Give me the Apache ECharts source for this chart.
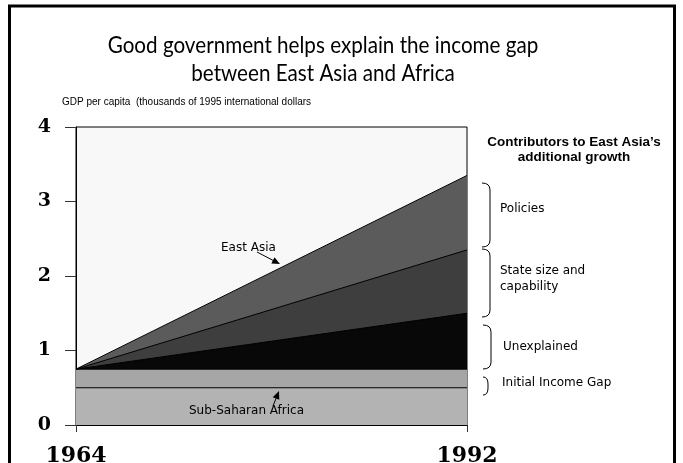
<!DOCTYPE html>
<html>
<head>
<meta charset="utf-8">
<script src="https://cdn.jsdelivr.net/npm/echarts@6/dist/echarts.min.js"></script>
<style>
html,body{margin:0;padding:0;background:#fff;}
#chart{width:683px;height:463px;}
</style>
</head>
<body>
<div id="chart"></div>
<script>
// ---- data ----
const years = ['1964', '1992'];
const yTicks = [0, 1, 2, 3, 4];
// cumulative top levels of each band (thousands of 1995 international dollars)
const africaTop = [0.5, 0.5];
const initialGapTop = [0.75, 0.75];
const unexplainedTop = [0.75, 1.5];
const stateSizeTop = [0.75, 2.35];
const policiesTop = [0.75, 3.35];

const chart = echarts.init(document.getElementById('chart'), null, {renderer: 'canvas'});

function band(name, data, color) {
  return {
    name: name, type: 'line', data: data, symbol: 'none', silent: true,
    lineStyle: {color: '#000', width: 1},
    areaStyle: {color: color, opacity: 1, origin: 'start'}
  };
}

function arrow(x1, y1, x2, y2) {
  const ang = Math.atan2(y2 - y1, x2 - x1);
  const L = 8, W = 3.5;
  const bx = x2 - L * Math.cos(ang), by = y2 - L * Math.sin(ang);
  const px = -Math.sin(ang) * W, py = Math.cos(ang) * W;
  return [
    {type: 'line', shape: {x1: x1, y1: y1, x2: bx, y2: by}, style: {stroke: '#000', lineWidth: 1}, z: 20},
    {type: 'polygon', shape: {points: [[x2, y2], [bx + px, by + py], [bx - px, by - py]]}, style: {fill: '#000'}, z: 20}
  ];
}

function bracket(x, y1, y2, w) {
  const r = Math.min(7, (y2 - y1) / 2);
  const st = {stroke: '#000', lineWidth: 1, fill: null};
  return [
    {type: 'bezierCurve', shape: {x1: x, y1: y1, cpx1: x + w, cpy1: y1, x2: x + w, y2: y1 + r}, style: st},
    {type: 'line', shape: {x1: x + w, y1: y1 + r, x2: x + w, y2: y2 - r}, style: st},
    {type: 'bezierCurve', shape: {x1: x + w, y1: y2 - r, cpx1: x + w, cpy1: y2, x2: x, y2: y2}, style: st}
  ];
}

function txt(text, x, y, extra) {
  return {type: 'text', z: 20, style: Object.assign({text: text, x: x, y: y, verticalAlign: 'middle', font: '12px "DejaVu Sans"', fill: '#000'}, extra || {})};
}

const graphics = [
  // slide frame
  {type: 'polyline', shape: {points: [[9.5, 470], [9.5, 6], [674.5, 6], [674.5, 470]]}, style: {stroke: '#000', lineWidth: 3, fill: null}, z: 10},
  // title
  {type: 'group', x: 323, y: 0, scaleX: 0.86, children: [
    {type: 'text', style: {text: 'Good government helps explain the income gap', x: 0, y: 33, align: 'center', verticalAlign: 'alphabetic', font: '24px Lato', fill: '#000'}},
    {type: 'text', style: {text: 'between East Asia and Africa', x: 0, y: 61, align: 'center', verticalAlign: 'alphabetic', font: '24px Lato', fill: '#000'}}
  ]},
  // y-axis caption
  txt('GDP per capita  (thousands of 1995 international dollars', 62, 102, {font: '10px "Liberation Sans"'}),
  // right panel heading
  txt('Contributors to East Asia\u2019s', 574, 142, {align: 'center', font: 'bold 13.5px "Liberation Sans"'}),
  txt('additional growth', 574, 157, {align: 'center', font: 'bold 13.5px "Liberation Sans"'}),
  // bracket labels
  txt('Policies', 500, 209),
  txt('State size and', 500, 271),
  txt('capability', 500, 287),
  txt('Unexplained', 503, 347),
  txt('Initial Income Gap', 502, 383),
  // annotations
  txt('East Asia', 221, 248),
  txt('Sub-Saharan Africa', 189, 411)
].concat(
  bracket(482, 183, 247, 8),
  bracket(482, 249, 317, 8),
  bracket(483, 325, 369, 8),
  bracket(483, 377, 395, 5),
  arrow(257, 252, 280, 264),
  arrow(273, 406, 279, 391)
);

chart.setOption({
  animation: false,
  backgroundColor: '#fff',
  grid: {left: 76, right: 216, top: 127, bottom: 38, outerBoundsMode: 'none', containLabel: false, show: true, backgroundColor: '#f8f8f8', borderColor: '#000', borderWidth: 1, z: 0},
  xAxis: {
    type: 'category', data: years, boundaryGap: false,
    axisLine: {show: true, lineStyle: {color: '#000', width: 1}},
    axisTick: {show: true, length: 7, lineStyle: {color: '#333'}},
    axisLabel: {color: '#000', fontFamily: 'DejaVu Serif', fontWeight: 'bold', fontSize: 22, margin: 20},
    splitLine: {show: false}
  },
  yAxis: {
    type: 'value', min: yTicks[0], max: yTicks[yTicks.length - 1], interval: 1,
    axisLine: {show: true, lineStyle: {color: '#000', width: 1}},
    axisTick: {show: true, length: 11, lineStyle: {color: '#333'}},
    axisLabel: {color: '#000', fontFamily: 'DejaVu Serif', fontWeight: 'bold', fontSize: 19, margin: 25},
    splitLine: {show: false}
  },
  series: [
    band('Policies', policiesTop, '#5b5b5b'),
    band('State size and capability', stateSizeTop, '#3e3e3e'),
    band('Unexplained', unexplainedTop, '#080808'),
    band('Initial Income Gap', initialGapTop, '#a6a6a6'),
    band('Sub-Saharan Africa', africaTop, '#b3b3b3')
  ],
  graphic: graphics
});
</script>
</body>
</html>
